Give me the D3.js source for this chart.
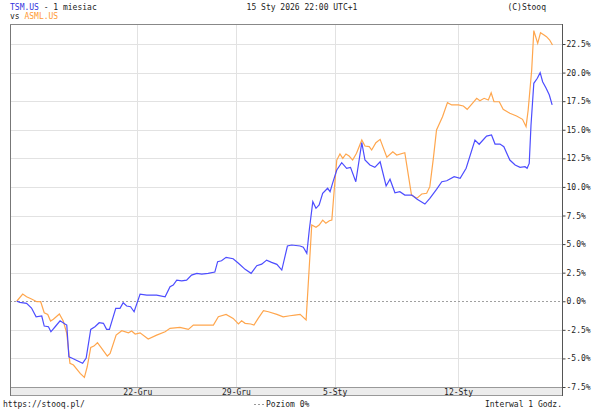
<!DOCTYPE html>
<html><head><meta charset="utf-8">
<script src="https://cdn.jsdelivr.net/npm/d3@7"></script>
<style>
html,body{margin:0;padding:0;background:#fff;}
svg{display:block;}
text{font-family:"DejaVu Sans Mono",monospace;font-size:8px;fill:#222;}
</style></head>
<body>
<script>
// ---- data ----
const tsmHours = [0.8,1.7,3.6,5.0,6.3,7.9,8.6,9.8,10.5,11.7,
 13.1,14.5,15.0,15.6,16.4,18.0,19.5,20.5,21.8,23.0,
 24.2,25.4,26.3,27.1,28.9,30.1,31.0,32.0,33.1,34.1,
 35.8,37.7,40.5,42.9,44.3,45.2,46.2,47.6,49.0,50.4,
 51.9,53.3,55.1,57.0,57.8,58.9,60.2,62.2,63.7,65.6,
 67.3,68.9,70.3,71.7,73.1,74.6,76.0,77.6,78.8,81.2,
 82.1,83.1,83.8,84.8,85.7,86.6,87.6,89.0,89.7,90.4,
 91.6,93.0,94.4,95.5,97.0,98.7,99.6,101.0,102.4,103.9,
 105.6,106.7,108.1,109.5,110.9,112.9,114.4,116.6,118.0,119.9,
 121.4,122.8,124.9,126.6,128.3,130.8,132.0,134.1,135.5,136.5,
 137.9,139.0,140.7,142.2,143.6,145.0,145.6,146.2,146.7,147.5,
 148.5,149.3,150.0,151.0,151.9,152.7];
const tsmValues = [0.0,-0.10,-0.18,-0.59,-1.36,-1.29,-2.17,-2.23,-2.67,-2.23,
 -1.71,-1.99,-2.08,-4.86,-4.97,-5.21,-5.43,-4.97,-2.46,-2.23,
 -1.88,-1.93,-2.46,-2.46,-0.62,-0.62,-0.13,-0.42,-0.48,-0.92,
 0.63,0.54,0.54,0.39,1.27,1.42,1.85,1.79,1.85,2.29,
 2.44,2.38,2.44,2.55,3.46,3.54,3.84,3.72,3.32,2.79,
 2.44,3.11,3.25,3.60,3.40,3.23,2.73,4.83,4.92,4.83,
 4.72,4.19,6.23,8.71,8.13,8.42,9.44,9.88,9.58,10.31,
 11.48,12.12,11.63,11.71,10.45,13.87,12.35,11.92,11.71,12.20,
 10.08,10.67,9.49,9.58,9.29,9.29,8.92,8.50,9.00,9.79,
 10.45,10.54,10.89,10.75,11.63,14.10,13.73,14.45,14.54,13.75,
 13.75,13.52,12.35,11.92,11.71,11.77,11.63,12.06,15.4,19.06,
 19.5,19.99,19.2,18.63,18.04,17.17];
const asmlHours = [0.8,2.5,3.6,5.0,6.5,7.6,8.6,9.6,10.4,11.2,
 12.9,14.0,15.0,15.9,16.9,18.8,20.0,20.8,21.8,22.7,
 23.7,24.7,26.5,27.3,29.0,30.6,32.5,33.4,34.4,35.8,
 38.1,40.5,42.9,44.3,47.1,49.5,50.9,56.6,58.0,60.2,
 62.2,63.7,64.6,65.6,67.2,68.1,69.3,70.8,72.2,74.6,
 76.4,78.3,79.7,81.2,82.9,84.5,85.7,86.6,87.6,88.5,
 89.5,90.2,90.8,91.6,92.5,93.3,94.2,95.1,96.1,97.2,
 98.7,99.6,100.8,101.5,102.7,103.9,105.8,107.5,108.6,110.9,
 112.8,114.3,115.7,117.1,118.0,119.0,119.9,121.6,123.0,124.2,
 126.1,127.5,128.6,129.9,131.3,132.2,133.4,134.6,135.4,136.2,
 137.7,138.8,140.7,142.6,144.3,145.3,145.9,146.9,147.5,148.6,
 149.4,150.4,151.1,152.0,152.8];
const asmlValues = [0.0,0.63,0.39,0.19,-0.04,-0.04,-1.01,-1.15,-1.73,-1.58,
 -1.12,-1.73,-2.81,-5.43,-5.58,-6.31,-6.66,-5.73,-4.03,-3.92,
 -3.63,-4.03,-4.79,-4.56,-2.96,-2.58,-2.76,-2.61,-2.87,-2.76,
 -3.31,-2.96,-2.67,-2.37,-2.28,-2.46,-2.08,-2.08,-1.36,-1.15,
 -1.50,-1.99,-1.71,-1.93,-1.99,-2.08,-1.50,-0.83,-0.92,-1.15,
 -1.36,-1.27,-1.21,-1.15,-1.64,6.67,6.47,6.67,7.10,6.82,
 7.04,7.10,9.44,12.35,12.88,12.50,12.88,12.70,12.35,12.94,
 14.10,13.58,13.52,13.23,13.87,14.16,12.59,13.08,12.79,12.99,
 9.29,9.00,9.38,9.44,10.02,12.50,14.98,16.14,17.37,17.17,
 17.17,17.08,16.79,17.25,17.75,17.54,17.75,17.60,18.24,17.45,
 17.45,16.79,16.44,16.20,15.91,15.27,16.73,20.23,23.67,22.56,
 23.49,23.29,23.14,22.85,22.41];
const dateTickHours = [35, 63, 91, 126];
const dateTickLabels = ["22-Gru", "29-Gru", "5-Sty", "12-Sty"];
const yTicks = [-7.5,-5,-2.5,0,2.5,5,7.5,10,12.5,15,17.5,20,22.5];

// ---- layout ----
const W = 605, H = 416;
const pL = 10, pR = 562.5, pT = 24, pB = 387, sB = 396;
const blue = "#4d4dff", orange = "#ffa64d";

const svg = d3.select("body").append("svg").attr("width", W).attr("height", H);

const x = d3.scaleLinear().domain([0, 153]).range([13.9, 553.2]);
const y = d3.scaleLinear().domain([-7.5, 22.5]).range([pB, 44]);

// horizontal gridlines
svg.append("g").selectAll("line").data(yTicks.filter(d => d !== 0 && d !== -7.5)).join("line")
  .attr("x1", pL).attr("x2", pR)
  .attr("y1", d => Math.round(y(d)) + 0.5).attr("y2", d => Math.round(y(d)) + 0.5)
  .attr("stroke", "#e2e2e2").attr("stroke-width", 1);
// vertical gridlines
svg.append("g").selectAll("line").data(dateTickHours).join("line")
  .attr("x1", d => Math.round(x(d)) + 0.5).attr("x2", d => Math.round(x(d)) + 0.5)
  .attr("y1", pT).attr("y2", pB)
  .attr("stroke", "#e2e2e2").attr("stroke-width", 1);
// zero line dashed
svg.append("line").attr("x1", pL).attr("x2", pR)
  .attr("y1", Math.round(y(0)) + 0.5).attr("y2", Math.round(y(0)) + 0.5)
  .attr("stroke", "#a0a0a0").attr("stroke-dasharray", "2,2");

// lines
const lineGen = d3.line().x(d => x(d[0])).y(d => y(d[1]));
svg.append("path").datum(asmlHours.map((h, i) => [h, asmlValues[i]]))
  .attr("d", lineGen).attr("fill", "none").attr("stroke", orange).attr("stroke-width", 1.2);
svg.append("path").datum(tsmHours.map((h, i) => [h, tsmValues[i]]))
  .attr("d", lineGen).attr("fill", "none").attr("stroke", blue).attr("stroke-width", 1.2);

// strip
svg.append("rect").attr("x", pL + 0.5).attr("y", pB + 0.5)
  .attr("width", pR - pL - 0.5).attr("height", sB - pB - 1)
  .attr("fill", "#ececec").attr("stroke", "#999");

// frame
svg.append("line").attr("x1", pL + 0.5).attr("x2", pL + 0.5).attr("y1", pT).attr("y2", sB).attr("stroke", "#777");
svg.append("line").attr("x1", pL).attr("x2", pR).attr("y1", pT + 0.5).attr("y2", pT + 0.5).attr("stroke", "#888");

// y axis right
const yAxis = d3.axisRight(y).tickValues(yTicks).tickSize(3).tickPadding(1)
  .tickFormat(d => d.toFixed(1) + "%");
const gy = svg.append("g").attr("transform", `translate(${pR},0)`).call(yAxis);
gy.select(".domain").remove();
gy.selectAll(".tick line").attr("stroke", "#444");
gy.selectAll(".tick text").attr("fill", "#222").style("font-family", '"DejaVu Sans Mono",monospace').style("font-size", "8px");
svg.append("line").attr("x1", pR).attr("x2", pR).attr("y1", pT).attr("y2", sB).attr("stroke", "#555");

// x axis labels in strip
const xAxis = d3.axisBottom(x).tickValues(dateTickHours).tickSize(0).tickPadding(0)
  .tickFormat((d, i) => dateTickLabels[i]);
const gx = svg.append("g").attr("transform", `translate(0,${pB})`).call(xAxis);
gx.select(".domain").remove();
gx.selectAll(".tick text").attr("dy", null).attr("y", 8).attr("fill", "#222")
  .style("font-family", '"DejaVu Sans Mono",monospace').style("font-size", "8px");

// header
const t1 = svg.append("text").attr("x", 10).attr("y", 10);
t1.append("tspan").text("TSM.US").attr("fill", "#3333dd");
t1.append("tspan").text(" - 1 miesiac");
const t2 = svg.append("text").attr("x", 10).attr("y", 19);
t2.append("tspan").text("vs ");
t2.append("tspan").text("ASML.US").attr("fill", "#ff9933");
svg.append("text").attr("x", 302).attr("y", 10).attr("text-anchor", "middle").text("15 Sty 2026 22:00 UTC+1");
svg.append("text").attr("x", 546).attr("y", 10).attr("text-anchor", "end").text("(C)Stooq");

// footer
svg.append("text").attr("x", 3).attr("y", 407).text("https://stooq.pl/");
svg.append("line").attr("x1", 254).attr("x2", 264).attr("y1", 404.5).attr("y2", 404.5)
  .attr("stroke", "#999").attr("stroke-dasharray", "2,2");
svg.append("text").attr("x", 266).attr("y", 407).text("Poziom 0%");
svg.append("text").attr("x", 562).attr("y", 407).attr("text-anchor", "end").text("Interwal 1 Godz.");
</script>
</body></html>
